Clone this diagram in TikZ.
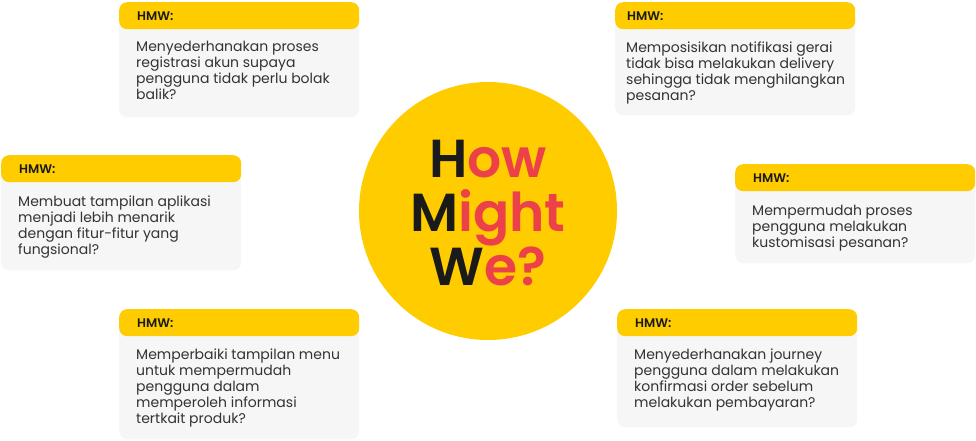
\documentclass[tikz,border=0pt]{standalone}
\usepackage{fontspec}
\setmainfont{Poppins}
\newfontfamily\popsemi{Poppins SemiBold}
\definecolor{hmwyellow}{HTML}{FFCC00}
\definecolor{hmwgray}{HTML}{F6F6F6}
\definecolor{hmwtext}{HTML}{333333}
\definecolor{hmwred}{HTML}{EC4149}
\definecolor{hmwdark}{HTML}{1A1A1A}
\begin{document}
\begin{tikzpicture}[x=1pt,y=-1pt,
  bodybox/.style={fill=hmwgray, draw=none, rounded corners=8pt, minimum width=240pt, anchor=north west, inner sep=0pt},
  headbox/.style={fill=hmwyellow, draw=none, rounded corners=8pt, minimum width=240pt, minimum height=27pt, anchor=north west, inner sep=0pt},
  headtext/.style={anchor=base west, inner sep=0pt, text=hmwdark, font=\fontsize{12.5}{14}\popsemi},
  bodytext/.style={anchor=base west, inner sep=0pt, align=left, text=hmwtext, font=\fontsize{14}{16}\selectfont},
  titletext/.style={anchor=base, inner sep=0pt, font=\fontsize{53.5}{58}\popsemi}
]
\useasboundingbox (0,0) rectangle (976,440);
\fill[white] (0,0) rectangle (976,440);

% centre circle
\node[circle, fill=hmwyellow, minimum size=258pt, inner sep=0pt] (hub) at (488,211) {};
\node[titletext] (t1) at (488,177) {\textcolor{hmwdark}{H}\textcolor{hmwred}{ow}};
\node[titletext] (t2) at (488,231) {\textcolor{hmwdark}{M}\textcolor{hmwred}{ight}};
\node[titletext] (t3) at (488,285) {\textcolor{hmwdark}{W}\textcolor{hmwred}{e?}};

% box 1 top-left (text anchored at baseline of last line)
\node[bodybox, minimum height=107pt] (b1) at (119,10) {};
\node[headbox] (h1) at (119,2) {};
\node[headtext] (ht1) at (137,20) {HMW:};
\node[bodytext] (x1) at (136,99) {Menyederhanakan proses\\registrasi akun supaya\\pengguna tidak perlu bolak\\balik?};

% box 2 left
\node[bodybox, minimum height=107pt] (b2) at (1,163) {};
\node[headbox] (h2) at (1,155) {};
\node[headtext] (ht2) at (19,173) {HMW:};
\node[bodytext] (x2) at (18,254) {Membuat tampilan aplikasi\\menjadi lebih menarik\\dengan fitur-fitur yang\\fungsional?};

% box 3 bottom-left
\node[bodybox, minimum height=122pt] (b3) at (119,317) {};
\node[headbox] (h3) at (119,309) {};
\node[headtext] (ht3) at (137,327) {HMW:};
\node[bodytext] (x3) at (136,423) {Memperbaiki tampilan menu\\untuk mempermudah\\pengguna dalam\\memperoleh informasi\\tertkait produk?};

% box 4 top-right
\node[bodybox, minimum height=105pt] (b4) at (615,10) {};
\node[headbox] (h4) at (615,2) {};
\node[headtext] (ht4) at (627,20) {HMW:};
\node[bodytext] (x4) at (626,100) {Memposisikan notifikasi gerai\\tidak bisa melakukan delivery\\sehingga tidak menghilangkan\\pesanan?};

% box 5 right
\node[bodybox, minimum height=91pt] (b5) at (735,172) {};
\node[headbox] (h5) at (735,164) {};
\node[headtext] (ht5) at (753,182) {HMW:};
\node[bodytext] (x5) at (752,247) {Mempermudah proses\\pengguna melakukan\\kustomisasi pesanan?};

% box 6 bottom-right
\node[bodybox, minimum height=110pt] (b6) at (617,317) {};
\node[headbox] (h6) at (617,309) {};
\node[headtext] (ht6) at (635,327) {HMW:};
\node[bodytext] (x6) at (634,407) {Menyederhanakan journey\\pengguna dalam melakukan\\konfirmasi order sebelum\\melakukan pembayaran?};
\end{tikzpicture}
\end{document}
